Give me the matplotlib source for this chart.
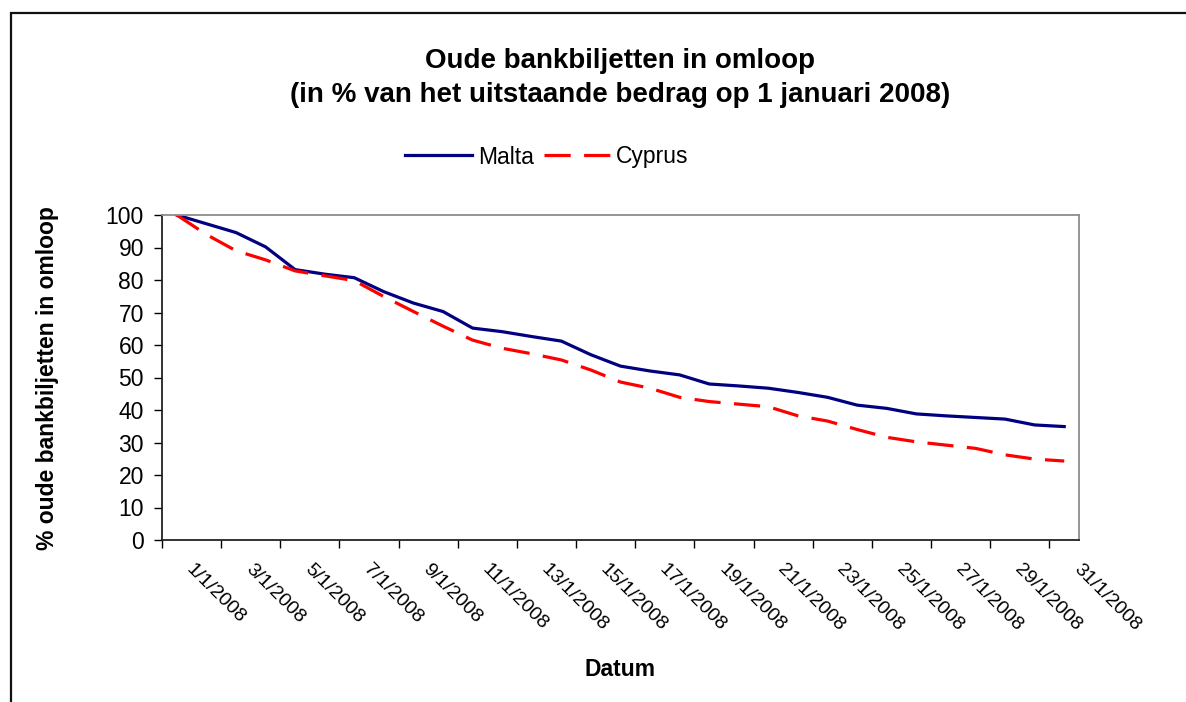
import matplotlib
matplotlib.use("Agg")
import matplotlib.pyplot as plt
import matplotlib.patches as mpatches
from matplotlib.transforms import ScaledTranslation

plt.rcParams['font.family'] = ['Liberation Sans', 'DejaVu Sans']

# daily values, 1/1/2008 .. 31/1/2008 (% of amount outstanding on 1 Jan)
days = list(range(1, 32))
dates = ["%d/1/2008" % d for d in days]
malta = [100, 97.3, 94.6, 90.2, 83.2, 81.8, 80.7, 76.4, 72.9, 70.3, 65.2,
         64.1, 62.6, 61.2, 57.0, 53.5, 52.0, 50.8, 48.0, 47.4, 46.7, 45.4,
         43.9, 41.5, 40.5, 38.8, 38.2, 37.7, 37.2, 35.4, 34.9]
cyprus = [100, 94.0, 89.0, 86.2, 82.8, 81.3, 79.8, 74.9, 70.3, 65.8, 61.5,
          59.0, 57.3, 55.4, 52.3, 48.6, 46.7, 43.9, 42.6, 41.8, 41.0, 38.2,
          36.6, 34.0, 31.6, 30.2, 29.2, 28.2, 26.2, 24.9, 24.3]
yticks = list(range(0, 101, 10))

W, H = 1186, 702
fig = plt.figure(figsize=(W / 100, H / 100), dpi=100)
ax = fig.add_axes([162 / W, 1 - 540 / H, 917 / W, 325 / H])

x = list(range(len(dates)))
l1, = ax.plot(x, malta, color='#000080', lw=2.3, label='Malta')
l2, = ax.plot(x, cyprus, color='#ff0000', lw=2.3, label='Cyprus',
              linestyle=(0, (8.2, 4.2)))

ax.set_xlim(-0.5, len(dates) - 0.5)
ax.set_ylim(0, 100)
ax.set_yticks(yticks)
ax.tick_params(axis='y', direction='out', length=6, width=1, pad=7,
               labelsize=16.5, colors='black')

# ticks between categories, labels at every second category
ax.set_xticks([i - 0.5 for i in range(0, len(dates), 2)])
ax.set_xticklabels([])
ax.tick_params(axis='x', which='major', direction='out', length=6, width=1)
ax.set_xticks(x[::2], minor=True)
ax.set_xticklabels(dates[::2], minor=True, rotation=-45, ha='left', va='top',
                   rotation_mode='anchor', fontsize=14)
ax.tick_params(axis='x', which='minor', length=0, pad=15)
off = ScaledTranslation(13 / 72, 0, fig.dpi_scale_trans)
for lab in ax.get_xticklabels(minor=True):
    lab.set_transform(lab.get_transform() + off)

for s in ['left', 'bottom']:
    ax.spines[s].set_color('#222222')
    ax.spines[s].set_linewidth(1.3)
for s in ['top', 'right']:
    ax.spines[s].set_color('#8c8c8c')
    ax.spines[s].set_linewidth(1.3)

fig.text(620 / W, 1 - 77.5 / H,
         "Oude bankbiljetten in omloop\n(in % van het uitstaande bedrag op 1 januari 2008)",
         ha='center', va='center', fontsize=20, fontweight='bold', linespacing=1.4)
fig.text(48 / W, 1 - 378 / H, "% oude bankbiljetten in omloop", rotation=90,
         ha='center', va='center', fontsize=16.5, fontweight='bold')
fig.text(620 / W, 1 - 669 / H, "Datum", ha='center', va='center',
         fontsize=16.5, fontweight='bold')

fig.legend(handles=[l1, l2], loc='center', bbox_to_anchor=(547 / W, 1 - 157 / H),
           ncol=2, frameon=False, fontsize=16.5, handlelength=2.9,
           handletextpad=0.25, columnspacing=0.45)

# chart area border (cut off at right and bottom)
fig.patches.append(mpatches.Rectangle((11 / W, -0.1), 1.2, 1.1 - 13 / H,
                                      transform=fig.transFigure, fill=False,
                                      edgecolor='#111111', lw=1.6))

fig.savefig("out.png", dpi=100)
